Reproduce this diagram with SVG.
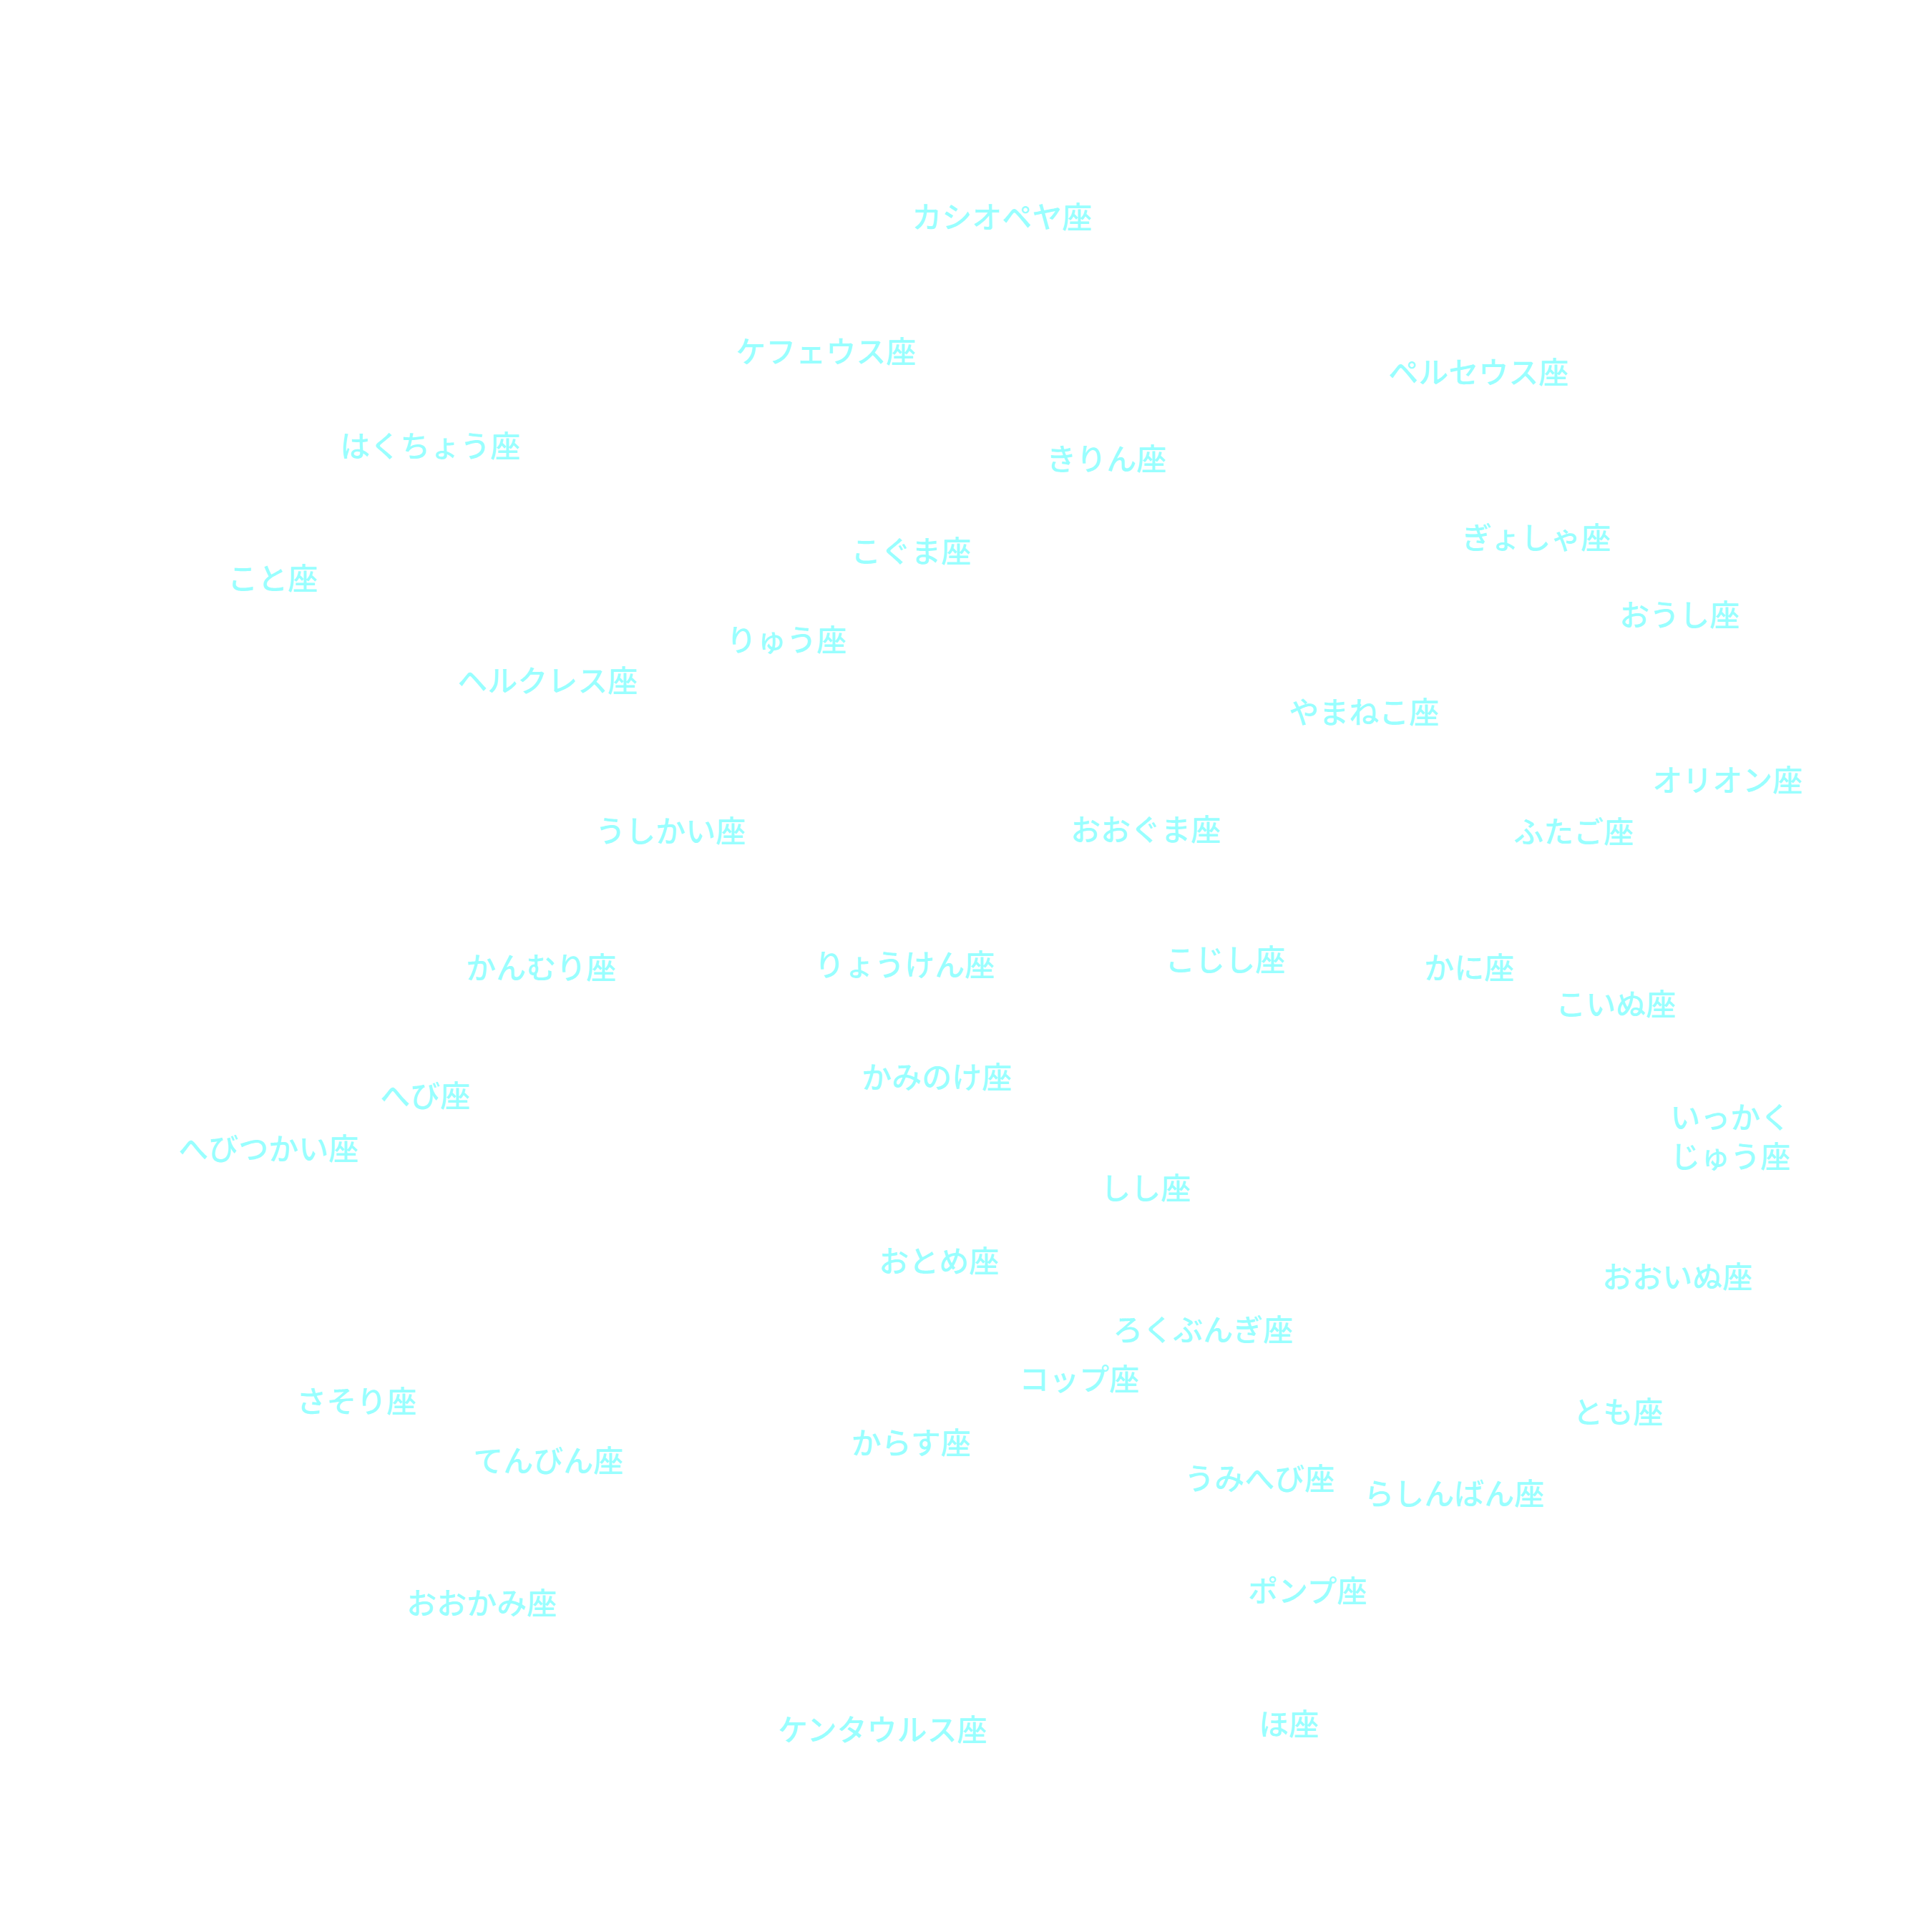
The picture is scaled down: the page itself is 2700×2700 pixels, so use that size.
<svg xmlns="http://www.w3.org/2000/svg" width="2700" height="2700" viewBox="0 0 2700 2700">
<style>
.l{font-family:"Noto Sans CJK JP","Noto Sans",sans-serif;font-size:42px;fill:#99ffff;text-anchor:middle;font-weight:500}
</style>
<rect width="2700" height="2700" fill="#ffffff"/>
<g id="connectors"></g>
<g id="n1"><text class="l" x="1400" y="319">カシオペヤ座</text></g>
<g id="n2"><text class="l" x="1154" y="507">ケフェウス座</text></g>
<g id="n3"><text class="l" x="2066" y="536">ペルセウス座</text></g>
<g id="n4"><text class="l" x="601" y="639">はくちょう座</text></g>
<g id="n5"><text class="l" x="1546" y="657">きりん座</text></g>
<g id="n6"><text class="l" x="2147" y="767">ぎょしゃ座</text></g>
<g id="n7"><text class="l" x="1273" y="786">こぐま座</text></g>
<g id="n8"><text class="l" x="381" y="824">こと座</text></g>
<g id="n9"><text class="l" x="2347" y="875">おうし座</text></g>
<g id="n10"><text class="l" x="1099" y="910">りゅう座</text></g>
<g id="n11"><text class="l" x="765" y="967">ヘルクレス座</text></g>
<g id="n12"><text class="l" x="1906" y="1011">やまねこ座</text></g>
<g id="n13"><text class="l" x="2414" y="1106">オリオン座</text></g>
<g id="n14"><text class="l" x="937" y="1177">うしかい座</text></g>
<g id="n15"><text class="l" x="1601" y="1175">おおぐま座</text></g>
<g id="n16"><text class="l" x="2199" y="1178">ふたご座</text></g>
<g id="n17"><text class="l" x="756" y="1368">かんむり座</text></g>
<g id="n18"><text class="l" x="1264" y="1364">りょうけん座</text></g>
<g id="n19"><text class="l" x="1712" y="1357">こじし座</text></g>
<g id="n20"><text class="l" x="2053" y="1368">かに座</text></g>
<g id="n21"><text class="l" x="2258" y="1419">こいぬ座</text></g>
<g id="n22"><text class="l" x="1309" y="1521">かみのけ座</text></g>
<g id="n23"><text class="l" x="594" y="1547">へび座</text></g>
<g id="n24"><text class="l" x="2418" y="1577">いっかく</text><text class="l" x="2418" y="1632">じゅう座</text></g>
<g id="n25"><text class="l" x="375" y="1621">へびつかい座</text></g>
<g id="n26"><text class="l" x="1601" y="1676">しし座</text></g>
<g id="n27"><text class="l" x="1312" y="1778">おとめ座</text></g>
<g id="n28"><text class="l" x="2344" y="1800">おおいぬ座</text></g>
<g id="n29"><text class="l" x="1681" y="1874">ろくぶんぎ座</text></g>
<g id="n30"><text class="l" x="1508" y="1943">コップ座</text></g>
<g id="n31"><text class="l" x="498" y="1974">さそり座</text></g>
<g id="n32"><text class="l" x="2261" y="1989">とも座</text></g>
<g id="n33"><text class="l" x="1273" y="2032">からす座</text></g>
<g id="n34"><text class="l" x="766" y="2057">てんびん座</text></g>
<g id="n35"><text class="l" x="1760" y="2082">うみへび座</text></g>
<g id="n36"><text class="l" x="2032" y="2103">らしんばん座</text></g>
<g id="n37"><text class="l" x="1827" y="2239">ポンプ座</text></g>
<g id="n38"><text class="l" x="673" y="2256">おおかみ座</text></g>
<g id="n39"><text class="l" x="1233" y="2433">ケンタウルス座</text></g>
<g id="n40"><text class="l" x="1801" y="2425">ほ座</text></g>
</svg>
